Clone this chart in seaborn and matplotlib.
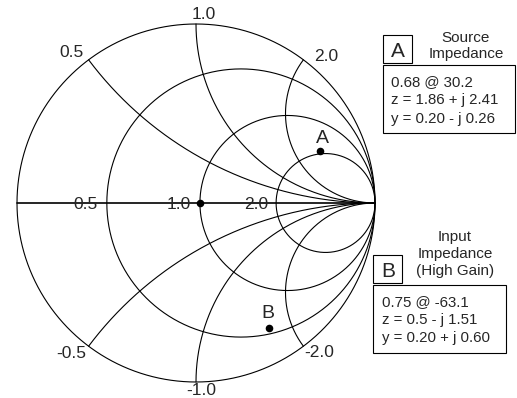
import numpy as np
import pandas as pd
import seaborn as sns
import matplotlib.pyplot as plt
from matplotlib.patches import Rectangle

# resistance circles: value as drawn on the sketch, label as printed
r_drawn = [0.335, 1.045, 2.62]
r_labels = ['0.5', '1.0', '2.0']
# reactance arcs
x_values = [0.5, 1.0, 2.0, -0.5, -1.0, -2.0]
x_labels = ['0.5', '1.0', '2.0', '-0.5', '-1.0', '-2.0']

# marked points (reflection coeff.: magnitude, angle in deg)
pt_names = ['A', 'B']
pt_mag = [0.75, 0.81]
pt_ang = [22.7, -59.7]

src_title = 'Source\nImpedance'
src_lines = ['0.68 @ 30.2', 'z = 1.86 + j 2.41', 'y = 0.20 - j 0.26']
inp_title = 'Input\nImpedance\n(High Gain)'
inp_lines = ['0.75 @ -63.1', 'z = 0.5 - j 1.51', 'y = 0.20 + j 0.60']

# chart centre / radius in output pixels
CX, CY, R = 196, 203, 179
W, H = 517, 398


def gamma(z):
    return (z - 1) / (z + 1)


def px(x, y):
    return (x - CX) / R, (CY - y) / R


def box(ax, x0, y0, x1, y1):
    gx, gy = px(x0, y1)
    ax.add_patch(Rectangle((gx, gy), (x1 - x0) / R, (y1 - y0) / R,
                           fill=False, edgecolor='black', linewidth=0.8))


def main():
    sns.set_theme(style='white')
    plt.rcParams['font.family'] = ['Liberation Sans', 'DejaVu Sans']

    rows = []
    th = np.linspace(0, 2 * np.pi, 721)
    for i, r in enumerate([0] + r_drawn):
        c, rad = r / (r + 1), 1 / (r + 1)
        for gx, gy in zip(c + rad * np.cos(th), rad * np.sin(th)):
            rows.append(('r%d' % i, gx, gy))
    s = np.concatenate([[0], np.logspace(-3, 4, 600)])
    for i, x in enumerate(x_values):
        g = gamma(s + 1j * x)
        for gx, gy in zip(g.real, g.imag):
            rows.append(('x%d' % i, gx, gy))
    curves = pd.DataFrame(rows, columns=['curve', 'gr', 'gi'])

    fig = plt.figure(figsize=(W / 100, H / 100), dpi=100)
    ax = fig.add_axes([0, 0, 1, 1])
    sns.lineplot(data=curves, x='gr', y='gi', units='curve', estimator=None,
                 sort=False, color='black', linewidth=0.8, ax=ax)

    # real axis
    g = gamma(s + 0j)
    sns.lineplot(x=g.real, y=g.imag, sort=False, estimator=None,
                 color='black', linewidth=1.2, ax=ax)

    pts = pd.DataFrame({'name': pt_names, 'mag': pt_mag, 'ang': pt_ang})
    pts['gr'] = pts.mag * np.cos(np.radians(pts.ang))
    pts['gi'] = pts.mag * np.sin(np.radians(pts.ang))
    centre = pd.DataFrame({'gr': [gamma(r_drawn[1])], 'gi': [0.0]})
    dots = pd.concat([pts[['gr', 'gi']], centre])
    sns.scatterplot(data=dots, x='gr', y='gi', color='black', s=30,
                    edgecolor='black', linewidth=0, ax=ax, zorder=5)

    fs = 12.5
    # resistance labels on real axis
    for lab, (x, y) in zip(r_labels, [(86, 209), (179, 209), (256, 209)]):
        ax.text(*px(x, y), lab, ha='center', va='baseline', fontsize=fs)
    # reactance labels on rim
    xl_pos = [(71, 57), (204, 19), (326, 61), (71, 358), (201, 395), (319, 357)]
    for lab, (x, y) in zip(x_labels, xl_pos):
        ax.text(*px(x, y), lab, ha='center', va='baseline', fontsize=fs)

    # point letters
    for _, p in pts.iterrows():
        dy = 4 / R if p['name'] == 'A' else 6 / R
        dx = 3 / R if p['name'] == 'A' else -1 / R
        ax.text(p.gr + dx, p.gi + dy, p['name'], ha='center', va='bottom',
                fontsize=14)

    # source impedance annotation
    box(ax, 383, 35, 412, 63)
    ax.text(*px(397.5, 57), 'A', ha='center', va='baseline', fontsize=15)
    ax.text(*px(466, 46), src_title, ha='center', va='center', fontsize=11,
            linespacing=1.25)
    box(ax, 383, 65, 515, 133)
    for i, line in enumerate(src_lines):
        ax.text(*px(391, 86 + 18.3 * i), line, ha='left', va='baseline',
                fontsize=10.8)

    # input impedance annotation
    box(ax, 373, 255, 402, 283)
    ax.text(*px(388, 277), 'B', ha='center', va='baseline', fontsize=15)
    ax.text(*px(455, 254), inp_title, ha='center', va='center', fontsize=11,
            linespacing=1.25)
    box(ax, 373, 285, 506, 353)
    for i, line in enumerate(inp_lines):
        ax.text(*px(382, 306 + 18 * i), line, ha='left', va='baseline',
                fontsize=10.8)

    x0, y0 = px(0, H)
    x1, y1 = px(W, 0)
    ax.set_xlim(x0, x1)
    ax.set_ylim(y0, y1)
    ax.axis('off')
    fig.savefig('out.png', dpi=100)


if __name__ == '__main__':
    main()
